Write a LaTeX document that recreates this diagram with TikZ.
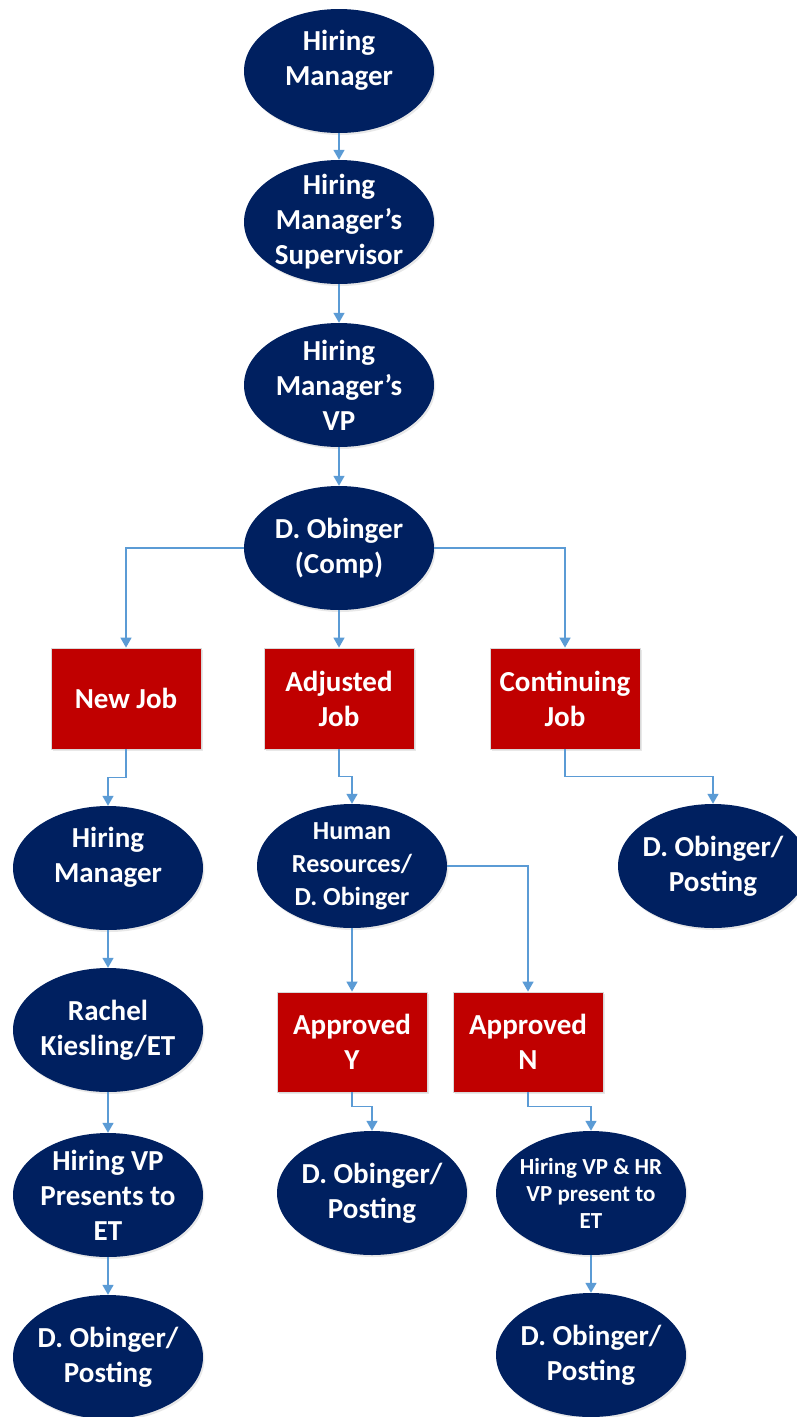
\documentclass[tikz,border=0pt]{standalone}
\usepackage{fontspec}
\setmainfont{Carlito}
\usetikzlibrary{shapes.geometric,arrows.meta,shadows,calc}
\definecolor{navy}{RGB}{0,32,96}
\definecolor{boxred}{RGB}{192,0,0}
\definecolor{linkblue}{RGB}{91,155,213}
\tikzset{
  ell/.style={ellipse, fill=navy, minimum width=190pt, minimum height=124pt, inner sep=0pt,
    drop shadow={opacity=0.18, shadow xshift=1.5pt, shadow yshift=-2pt}},
  txt/.style={text=white, align=center, font=\bfseries\fontsize{29}{35}\selectfont, inner sep=0pt},
  txtsmall/.style={text=white, align=center, font=\bfseries\fontsize{26}{33}\selectfont, inner sep=0pt},
  txttiny/.style={text=white, align=center, font=\bfseries\fontsize{23}{27}\selectfont, inner sep=0pt},
  box/.style={rectangle, fill=boxred, draw=black!15, line width=0.8pt, minimum width=150pt, minimum height=101pt,
    inner sep=0pt, text=white, align=center, font=\bfseries\fontsize{29}{35}\selectfont,
    drop shadow={opacity=0.18, shadow xshift=1.5pt, shadow yshift=-2pt}},
  arr/.style={draw=linkblue, line width=1.6pt, -{Triangle[length=10pt,width=11pt]}},
  elbow/.style={to path={|- ($(\tikztostart)!0.5!(\tikztotarget)$) -| (\tikztotarget)}}
}
\begin{document}
\begin{tikzpicture}[x=1pt,y=-1pt]
\useasboundingbox (0,0) rectangle (797,1417);
% top column
\node[ell, label={[txt,yshift=11pt]center:Hiring\\Manager}] (e1) at (339,71) {};
\node[ell, label={[txt]center:Hiring\\Manager’s\\Supervisor}] (e2) at (339,222) {};
\node[ell, label={[txt]center:Hiring\\Manager’s\\VP}] (e3) at (339,385) {};
\node[ell, label={[txt]center:D. Obinger\\(Comp)}] (e4) at (339,548) {};
% job boxes
\node[box] (r1) at (126,698.5) {New Job};
\node[box] (r2) at (339,698.5) {Adjusted\\Job};
\node[box] (r3) at (565,698.5) {Continuing\\Job};
% second row
\node[ell, label={[txt,yshift=11pt]center:Hiring\\Manager}] (e5) at (108,868) {};
\node[ell, label={[txtsmall]center:Human\\Resources/\\D. Obinger}] (e6) at (352,866) {};
\node[ell, label={[txt]center:D. Obinger/\\Posting}] (e7) at (713,866) {};
% third row
\node[ell, label={[txt]center:Rachel\\Kiesling/ET}] (e8) at (108,1030) {};
\node[box, minimum height=100pt] (r4) at (352,1042) {Approved\\Y};
\node[box, minimum height=100pt] (r5) at (528,1042) {Approved\\N};
% fourth row
\node[ell, label={[txt]center:Hiring VP\\Presents to\\ET}] (e9) at (108,1195) {};
\node[ell, label={[txt]center:D. Obinger/\\Posting}] (e10) at (372,1193) {};
\node[ell, label={[txttiny]center:Hiring VP \& HR\\VP present to\\ET}] (e11) at (591,1193) {};
% bottom row
\node[ell, label={[txt]center:D. Obinger/\\Posting}] (e12) at (108,1357) {};
\node[ell, label={[txt]center:D. Obinger/\\Posting}] (e13) at (591,1355) {};
% connectors
\draw[arr] (e1) -- (e2);
\draw[arr] (e2) -- (e3);
\draw[arr] (e3) -- (e4);
\draw[arr] (e4.west) -| (r1.north);
\draw[arr] (e4.south) -- (r2.north);
\draw[arr] (e4.east) -| (r3.north);
\draw[arr] (r1.south) to[elbow] (e5.north);
\draw[arr] (r2.south) to[elbow] (e6.north);
\draw[arr] (r3.south) to[elbow] (e7.north);
\draw[arr] (e5.south) -- (e8.north);
\draw[arr] (e6.south) -- (r4.north);
\draw[arr] (e6.east) -| (r5.north);
\draw[arr] (r4.south) -- ++(0,14) -| (e10.north);
\draw[arr] (r5.south) -- ++(0,14) -| (e11.north);
\draw[arr] (e8.south) -- (e9.north);
\draw[arr] (e9.south) -- (e12.north);
\draw[arr] (e11.south) -- (e13.north);
\end{tikzpicture}
\end{document}
